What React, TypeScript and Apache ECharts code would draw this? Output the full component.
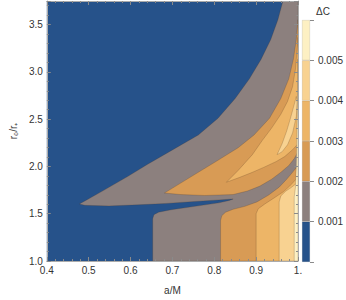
import React, { useEffect, useRef } from "react";
import * as echarts from "echarts";

// ---- data ----
const xTicks = [0.4, 0.5, 0.6, 0.7, 0.8, 0.9, 1.0];
const yTicks = [1.0, 1.5, 2.0, 2.5, 3.0, 3.5];
const levels = [0, 0.001, 0.002, 0.003, 0.004, 0.005, 0.006];
const levelLabels = ["0.001", "0.002", "0.003", "0.004", "0.005"];

// contour regions (superlevel sets), points as [a/M, r0/r+]
const domainRegion = [[0.4, 1.0], [1.0, 1.0], [1.0, 3.75], [0.4, 3.75]];
const above001 = [[0.964, 3.75], [0.952, 3.552], [0.935, 3.344], [0.912, 3.135], [0.884, 2.927], [0.85, 2.719], [0.809, 2.51], [0.762, 2.333], [0.697, 2.167], [0.64, 2.021], [0.594, 1.896], [0.537, 1.75], [0.491, 1.635], [0.478, 1.604], [0.491, 1.589], [0.548, 1.583], [0.617, 1.594], [0.685, 1.609], [0.754, 1.63], [0.811, 1.646], [0.845, 1.656], [0.836, 1.641], [0.811, 1.615], [0.754, 1.578], [0.697, 1.542], [0.667, 1.516], [0.656, 1.49], [0.653, 1.448], [0.653, 1.0], [1.0, 1.0], [1.0, 3.75]];
const above002Upper = [[1.0, 3.552], [0.996, 3.344], [0.989, 3.135], [0.978, 2.927], [0.959, 2.719], [0.932, 2.51], [0.895, 2.333], [0.857, 2.198], [0.804, 2.052], [0.754, 1.917], [0.708, 1.792], [0.681, 1.719], [0.72, 1.703], [0.777, 1.693], [0.845, 1.703], [0.879, 1.74], [0.909, 1.792], [0.937, 1.865], [0.959, 1.938], [0.978, 2.01], [0.991, 2.083], [1.0, 2.156]];
const above002Lower = [[0.815, 1.0], [0.815, 1.427], [0.818, 1.479], [0.827, 1.516], [0.845, 1.547], [0.873, 1.578], [0.902, 1.625], [0.93, 1.698], [0.955, 1.781], [0.973, 1.865], [0.987, 1.938], [1.0, 2.01], [1.0, 1.0]];
const above003Upper = [[0.829, 1.833], [0.857, 1.958], [0.891, 2.125], [0.914, 2.271], [0.937, 2.406], [0.959, 2.552], [0.975, 2.688], [0.987, 2.844], [0.994, 3.031], [0.998, 3.24], [1.0, 3.365], [1.0, 2.24], [0.987, 2.177], [0.968, 2.104], [0.948, 2.052], [0.918, 1.99], [0.891, 1.938], [0.861, 1.885]];
const above004Upper = [[0.95, 2.125], [0.962, 2.24], [0.973, 2.375], [0.982, 2.51], [0.991, 2.656], [0.996, 2.74], [0.998, 2.677], [0.996, 2.531], [0.987, 2.354], [0.975, 2.229], [0.962, 2.156]];
const above003Lower = [[0.9, 1.0], [0.9, 1.5], [0.905, 1.552], [0.921, 1.604], [0.943, 1.667], [0.964, 1.729], [0.98, 1.792], [0.991, 1.844], [1.0, 1.885], [1.0, 1.0]];
const above004Lower = [[0.955, 1.0], [0.955, 1.625], [0.959, 1.688], [0.971, 1.74], [0.982, 1.771], [0.991, 1.802], [1.0, 1.833], [1.0, 1.0]];
const above005 = [[0.991, 1.0], [0.991, 1.677], [0.994, 1.781], [0.996, 1.99], [0.998, 2.51], [1.0, 3.135], [1.0, 1.0]];

const regions = [
  { pts: domainRegion, band: 0 },
  { pts: above001, band: 1 },
  { pts: above002Upper, band: 2 },
  { pts: above002Lower, band: 2 },
  { pts: above003Upper, band: 3 },
  { pts: above003Lower, band: 3 },
  { pts: above004Upper, band: 4 },
  { pts: above004Lower, band: 4 },
  { pts: above005, band: 5 },
];

// ---- styles ----
const bandColors = ["#26528a", "#8c807e", "#d89b55", "#edb567", "#f8d291", "#fdf0c3"];
const FONT = "'Liberation Sans', Arial, sans-serif";
const TEXT = "#333333";
const FRAME = "#ababab";

export default function App() {
  const ref = useRef<HTMLDivElement>(null);
  useEffect(() => {
    if (!ref.current) return;
    const chart = echarts.init(ref.current, undefined, { renderer: "svg" });
    const xMin = xTicks[0];
    const xMax = xTicks[xTicks.length - 1];
    const yMin = yTicks[0];
    const yMax = 3.75;

    const commonX = {
      type: "value",
      min: xMin,
      max: xMax,
      interval: 0.1,
      gridIndex: 0,
      z: 10,
      splitLine: { show: false },
      axisLine: { show: true, onZero: false, lineStyle: { color: FRAME, width: 1 } },
      axisTick: { show: true, inside: true, length: 4, lineStyle: { color: "#8a8a8a" } },
      minorTick: { show: true, splitNumber: 5, length: 2, lineStyle: { color: "#8a8a8a" } },
    };
    const commonY = {
      type: "value",
      min: yMin,
      max: yMax,
      interval: 0.5,
      gridIndex: 0,
      z: 10,
      splitLine: { show: false },
      axisLine: { show: true, onZero: false, lineStyle: { color: FRAME, width: 1 } },
      axisTick: { show: true, inside: true, length: 4, lineStyle: { color: "#8a8a8a" } },
      minorTick: { show: true, splitNumber: 5, length: 2, lineStyle: { color: "#8a8a8a" } },
    };

    const barSeries = levels.slice(0, -1).map((lv, i) => ({
      type: "bar",
      stack: "cb",
      xAxisIndex: 2,
      yAxisIndex: 2,
      barWidth: "100%",
      silent: true,
      data: [levels[i + 1] - lv],
      itemStyle: { color: bandColors[i], borderColor: "rgba(0,0,0,0.18)", borderWidth: 0.5 },
    }));

    chart.setOption({
      animation: false,
      textStyle: { fontFamily: FONT },
      title: {
        text: "ΔC",
        left: 311,
        top: 1,
        textStyle: { fontFamily: FONT, fontSize: 10, fontWeight: "normal", color: TEXT },
      },
      grid: [
        { left: 35, top: 1, width: 263, height: 264 },
        { left: 302, top: 20, width: 9, height: 242 },
      ],
      xAxis: [
        {
          ...commonX,
          position: "bottom",
          axisLabel: {
            show: true,
            fontSize: 10,
            color: TEXT,
            fontFamily: FONT,
            margin: 4,
            formatter: (v: number) => (Math.abs(v - 1) < 1e-9 ? "1." : v.toFixed(1)),
          },
          name: "a/M",
          nameLocation: "middle",
          nameGap: 24,
          nameTextStyle: { fontSize: 10, color: TEXT, fontFamily: FONT },
        },
        { ...commonX, position: "top", axisLabel: { show: false } },
        { type: "category", gridIndex: 1, data: ["ΔC"], show: false },
      ],
      yAxis: [
        {
          ...commonY,
          position: "left",
          axisLabel: {
            show: true,
            fontSize: 10,
            color: TEXT,
            fontFamily: FONT,
            margin: 4,
            formatter: (v: number) =>
              Math.abs(v * 2 - Math.round(v * 2)) < 1e-9 ? v.toFixed(1) : "",
          },
          name: "r₀/r₊",
          nameLocation: "middle",
          nameGap: 20,
          nameTextStyle: { fontSize: 10, color: TEXT, fontFamily: FONT },
        },
        { ...commonY, position: "right", axisLabel: { show: false } },
        {
          type: "value",
          gridIndex: 1,
          position: "right",
          min: levels[0],
          max: levels[levels.length - 1],
          interval: 0.001,
          splitLine: { show: false },
          axisLine: { show: false },
          axisTick: { show: true, inside: false, length: 4, lineStyle: { color: "#8a8a8a" } },
          axisLabel: {
            show: true,
            fontSize: 10,
            color: TEXT,
            fontFamily: FONT,
            margin: 8,
            formatter: (v: number) => {
              const s = v.toFixed(3);
              return levelLabels.indexOf(s) >= 0 ? s : "";
            },
          },
        },
      ],
      series: [
        {
          type: "custom",
          coordinateSystem: "cartesian2d",
          xAxisIndex: 0,
          yAxisIndex: 0,
          clip: true,
          silent: true,
          data: regions.map((r, i) => [r.pts[0][0], r.pts[0][1], i]),
          renderItem: (params: any, api: any) => {
            const r = regions[params.dataIndex];
            const points = r.pts.map((p) => api.coord(p));
            return {
              type: "polygon",
              shape: { points },
              style: {
                fill: bandColors[r.band],
                stroke: r.band === 0 ? "none" : "rgba(70,50,30,0.35)",
                lineWidth: 0.6,
              },
            };
          },
        },
        ...barSeries,
      ],
    });
    return () => chart.dispose();
  }, []);
  return (
    <div
      ref={ref}
      style={{ position: "fixed", left: 0, top: 0, width: 346, height: 300, background: "#fff" }}
    />
  );
}
